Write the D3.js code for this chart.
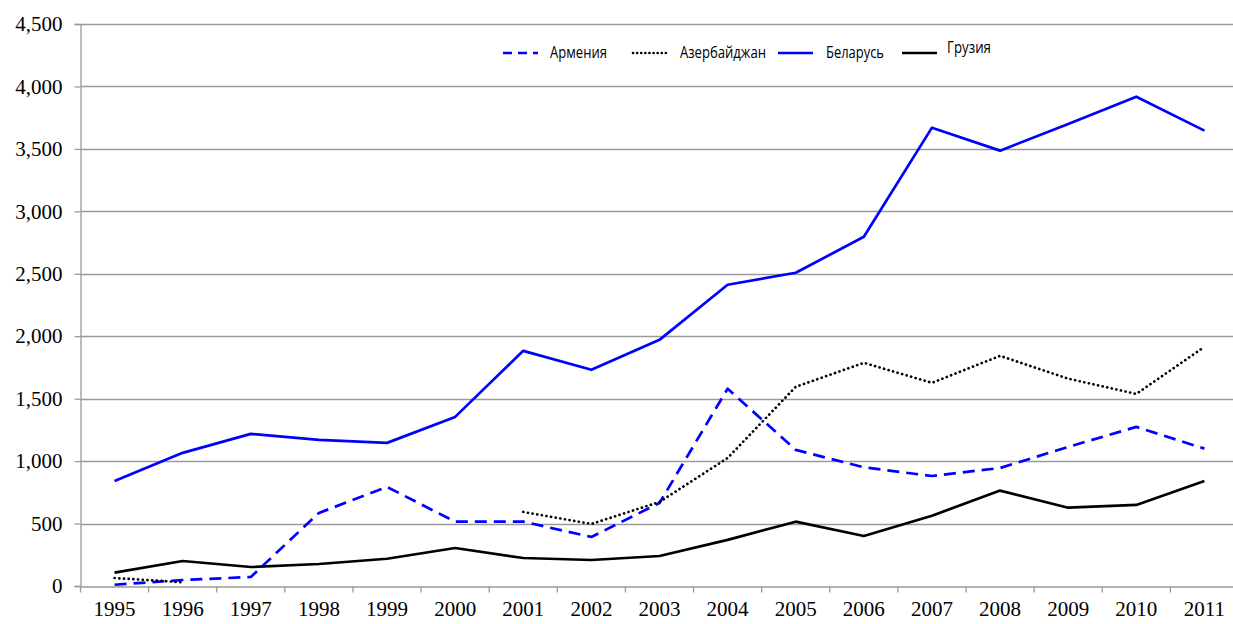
<!DOCTYPE html>
<html>
<head>
<meta charset="utf-8">
<script src="https://cdn.jsdelivr.net/npm/d3@7"></script>
<style>
  body { margin: 0; background: #fff; }
  .tick text { font-family: "Liberation Serif", "Times New Roman", serif; font-size: 21px; fill: #000; }
  .legend text { font-family: "Open Sans", sans-serif; font-size: 15.5px; fill: #000; }
</style>
</head>
<body>
<div id="chart"></div>
<script>
// years and series (null = no data)
var years = [1995, 1996, 1997, 1998, 1999, 2000, 2001, 2002, 2003, 2004, 2005, 2006, 2007, 2008, 2009, 2010, 2011];
var armenia    = [10, 48, 72, 585, 793, 515, 515, 393, 665, 1580, 1090, 950, 881, 945, 1114, 1274, 1100];
var azerbaijan = [64, 30, null, null, null, null, 593, 497, 673, 1025, 1595, 1787, 1627, 1843, 1660, 1538, 1915];
var belarus    = [841, 1066, 1218, 1170, 1146, 1354, 1883, 1731, 1971, 2412, 2508, 2796, 3670, 3486, 3700, 3918, 3646];
var georgia    = [107, 200, 152, 176, 218, 304, 224, 208, 240, 369, 515, 400, 563, 764, 627, 649, 841];
var yTicks = [0, 500, 1000, 1500, 2000, 2500, 3000, 3500, 4000, 4500];

var series = [
  {name: "Армения", values: armenia, color: "#0000ff", dash: "12,7", cap: "butt"},
  {name: "Азербайджан", values: azerbaijan, color: "#000", dash: "0.1,4.6", cap: "round"},
  {name: "Беларусь", values: belarus, color: "#0000ff", dash: null, cap: "butt"},
  {name: "Грузия", values: georgia, color: "#000", dash: null, cap: "butt"}
];

var width = 1233, height = 624;
var margin = {top: 24, right: 1233 - 1238.5, bottom: 624 - 586, left: 80.5};

var svg = d3.select("#chart").append("svg")
  .attr("width", width)
  .attr("height", height);

var x = d3.scaleBand()
  .domain(years)
  .range([margin.left, 1238.5]);

var y = d3.scaleLinear()
  .domain([0, 4500])
  .range([586, margin.top]);

// gridlines
svg.append("g")
  .selectAll("line")
  .data(yTicks.slice(1))
  .enter().append("line")
  .attr("x1", margin.left)
  .attr("x2", 1238.5)
  .attr("y1", d => Math.round(y(d)) + 0.5)
  .attr("y2", d => Math.round(y(d)) + 0.5)
  .attr("stroke", "#9a9a9a")
  .attr("stroke-width", 1.3);

// y axis
var leftAxis = d3.axisLeft(y).tickValues(yTicks).tickFormat(d3.format(",")).tickSize(6).tickPadding(12);
var gy = svg.append("g")
  .attr("transform", `translate(${margin.left},0)`)
  .call(leftAxis);
gy.select(".domain").attr("stroke", "#9a9a9a").attr("stroke-width", 1.3);
gy.selectAll(".tick line").attr("stroke", "#9a9a9a").attr("stroke-width", 1.3);

// x axis, ticks between categories
var bottomAxis = d3.axisBottom(x).tickSize(0).tickPadding(15);
var gx = svg.append("g")
  .attr("transform", "translate(0,586.5)")
  .call(bottomAxis);
gx.select(".domain").attr("stroke", "#9a9a9a").attr("stroke-width", 1.3);
gx.selectAll(".sep")
  .data(years.concat([null]))
  .enter().append("line")
  .attr("x1", (d, i) => margin.left + i * x.step())
  .attr("x2", (d, i) => margin.left + i * x.step())
  .attr("y1", 0)
  .attr("y2", 6)
  .attr("stroke", "#9a9a9a")
  .attr("stroke-width", 1.3);

var line = d3.line()
  .defined(d => d != null)
  .x((d, i) => x(years[i]) + x.bandwidth() / 2)
  .y(d => y(d));

series.forEach(function(s) {
  svg.append("path")
    .datum(s.values)
    .attr("fill", "none")
    .attr("stroke", s.color)
    .attr("stroke-width", 2.7)
    .attr("stroke-dasharray", s.dash)
    .attr("stroke-linecap", s.cap)
    .attr("stroke-linejoin", "round")
    .attr("d", line);
});

// legend
var legendPos = [
  {x: 503, tx: 550, ty: 58, w: 57},
  {x: 633, tx: 680, ty: 58, w: 86},
  {x: 778, tx: 826, ty: 58, w: 58},
  {x: 902, tx: 947, ty: 53, w: 44}
];
var legend = svg.append("g").attr("class", "legend");
series.forEach(function(s, i) {
  var p = legendPos[i];
  legend.append("line")
    .attr("x1", p.x).attr("x2", p.x + 35)
    .attr("y1", 53).attr("y2", 53)
    .attr("stroke", s.color)
    .attr("stroke-width", 2.6)
    .attr("stroke-dasharray", s.dash ? (s.cap === "round" ? "0.1,4" : "9,6") : null)
    .attr("stroke-linecap", s.cap);
  legend.append("text")
    .attr("x", p.tx)
    .attr("y", p.ty)
    .attr("textLength", p.w)
    .attr("lengthAdjust", "spacingAndGlyphs")
    .text(s.name);
});
</script>
</body>
</html>
